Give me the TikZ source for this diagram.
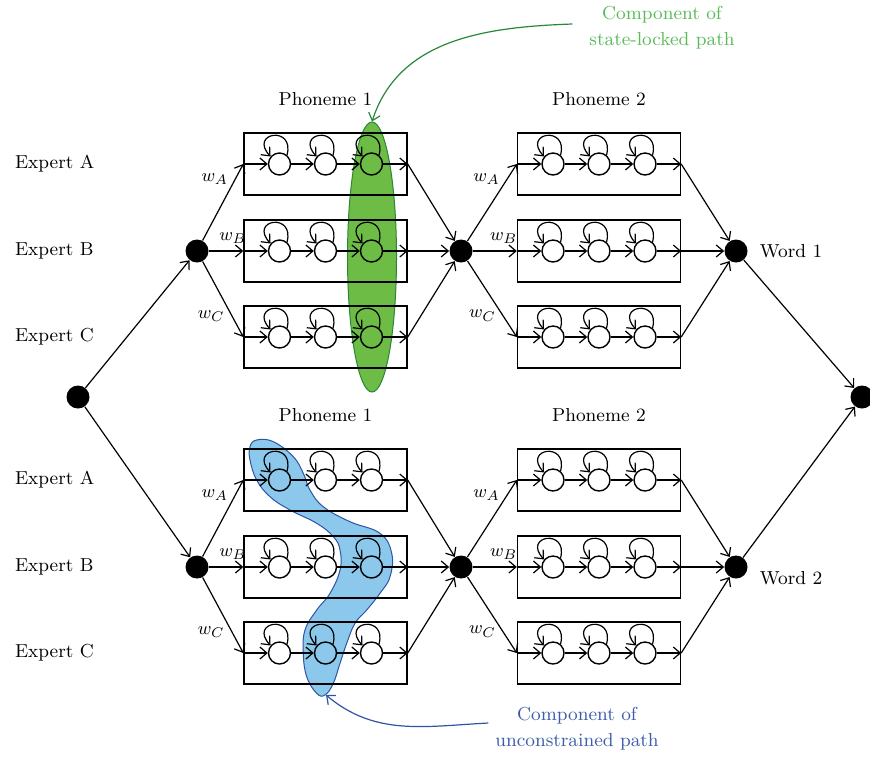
\documentclass[tikz,border=0pt]{standalone}
\usepackage{xcolor}
\usepackage{tikz}
\usepackage{amsmath}
\usetikzlibrary{
    arrows.meta,
    positioning,
    shapes.geometric
}

\definecolor{lockfill}{RGB}{108,188,70}
\definecolor{lockline}{RGB}{40,135,55}
\definecolor{locktext}{RGB}{90,186,90}
\definecolor{freefill}{RGB}{140,199,236}
\definecolor{freeline}{RGB}{45,85,165}
\definecolor{freetext}{RGB}{60,92,170}

\begin{document}
\begin{tikzpicture}[
x=0.5pt, y=-0.5pt,
font=\fontsize{9.4}{13}\selectfont,
dot/.style={
circle,
fill=black,
minimum size=11.5pt,
inner sep=0pt
},
state/.style={
circle,
draw,
line width=0.7pt,
minimum size=11pt,
inner sep=0pt
},
pbox/.style={
draw,
line width=0.7pt,
minimum width=81.5pt,
minimum height=31pt
},
arr/.style={
-{Straight Barb[length=3.5pt, width=6pt]},
line width=0.6pt
}
]

\useasboundingbox (0,0) rectangle (870,756);

% highlighted paths go first, under the states
\node[ellipse, draw=lockline, fill=lockfill, line width=0.5pt,
minimum width=24.5pt, minimum height=135pt, inner sep=0pt] (lock) at (372,257) {};

\draw[freeline, fill=freefill, line width=0.5pt]
plot[smooth cycle, tension=0.7] coordinates {
(256.7,440) (273.3,441.7) (293.3,456.7) (303.3,473.3) (310,490)
(323.3,506.7) (350,521.7) (380,533.3) (391.7,553.3) (390,576.7)
(380,593.3) (366.7,610) (355,623.3) (346.7,643.3) (340,663.3)
(333.3,683.3) (325,695) (316.7,693.3) (306.7,676.7) (303.3,653.3)
(305,630) (316.7,610) (330,593.3) (340,570) (340,550)
(333.3,536.7) (316.7,523.3) (290,510) (270,496.7) (256.7,480)
(250,460) (250,446.7)};
\coordinate (freetip) at (326,695);

% branching nodes
\node[dot] (start) at (78,397) {};
\node[dot] (exp-u) at (197,251) {};
\node[dot] (exp-l) at (197,567) {};
\node[dot] (jun-u) at (461,251) {};
\node[dot] (jun-l) at (461,567) {};
\node[dot] (word-u) at (736,251) {};
\node[dot] (word-l) at (736,567) {};
\node[dot] (fin) at (862,397) {};

\node[right=2.5pt of word-u] (wname-u) {Word 1};
\node[right=2.5pt of word-l, yshift=-5.5pt] (wname-l) {Word 2};

\foreach \s/\dy in {u/0, l/316} {
  \foreach \p/\xx in {1/325.5, 2/599} {
    \foreach \r/\yy in {a/164, b/251, c/337} {
      \node[pbox] (box-\s\p-\r) at (\xx,\yy+\dy) {};
      \foreach \i/\dx in {1/-46, 2/0, 3/46} {
        \node[state] (st-\s\p-\r-\i) at (\xx+\dx,\yy+\dy) {};
        \draw[arr] (st-\s\p-\r-\i.50)
          .. controls +(8,-30) and +(-22,-24) .. (st-\s\p-\r-\i.140);
      }
      \draw[arr] (box-\s\p-\r.west) -- (st-\s\p-\r-1);
      \draw[arr] (st-\s\p-\r-1) -- (st-\s\p-\r-2);
      \draw[arr] (st-\s\p-\r-2) -- (st-\s\p-\r-3);
      \draw[arr] (st-\s\p-\r-3) -- (box-\s\p-\r.east);
    }
    \node[above=10pt of box-\s\p-a] (ph-\s\p) {Phoneme \p};
  }
  \foreach \r/\yy/\ex/\anc/\lp in {a/164/A/east/0.8, b/251/B/south/0.7, c/337/C/east/0.72} {
    \node[anchor=west] (lab-\s-\r) at (8,\yy+\dy) {Expert \ex};
    \draw[arr] (exp-\s) -- node[anchor=\anc, pos=\lp] (wt-\s1-\r) {$w_\ex$} (box-\s1-\r.west);
    \draw[arr] (box-\s1-\r.east) -- (jun-\s);
    \draw[arr] (jun-\s) -- node[anchor=\anc, pos=\lp] (wt-\s2-\r) {$w_\ex$} (box-\s2-\r.west);
    \draw[arr] (box-\s2-\r.east) -- (word-\s);
  }
}

\draw[arr] (start) -- (exp-u);
\draw[arr] (start) -- (exp-l);
\draw[arr] (word-u) -- (fin);
\draw[arr] (word-l) -- (fin);

% annotations
\node[text=locktext, align=center] (note-lock) at (662,28)
{Component of\\state-locked path};
\node[text=freetext, align=center] (note-free) at (577,729)
{Component of\\unconstrained path};

\draw[arr, lockline] ([xshift=-5pt, yshift=2pt]note-lock.west)
to[out=182, in=72] (lock.north);
\draw[arr, freeline] ([yshift=3pt]note-free.west)
to[out=183, in=-40] (freetip);

\end{tikzpicture}
\end{document}
